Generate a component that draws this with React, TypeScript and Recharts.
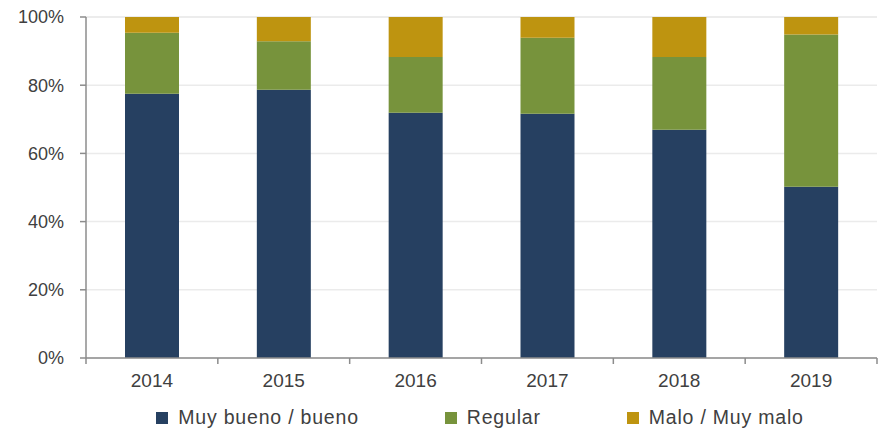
import { Bar, BarChart, CartesianGrid, Legend, XAxis, YAxis } from "recharts";

const years = ["2014", "2015", "2016", "2017", "2018", "2019"];
const muyBuenoBueno = [77.5, 78.7, 71.9, 71.6, 66.9, 50.2];
const regular = [17.9, 14.2, 16.4, 22.3, 21.4, 44.7];
const maloMuyMalo = [4.6, 7.1, 11.7, 6.1, 11.7, 5.1];
const yTicks = [0, 20, 40, 60, 80, 100];

const series = [
  { key: "muyBueno", name: "Muy bueno / bueno", color: "#264061" },
  { key: "regular", name: "Regular", color: "#77933C" },
  { key: "malo", name: "Malo / Muy malo", color: "#BE9410" },
];

const data = years.map((year, i) => ({
  year,
  muyBueno: muyBuenoBueno[i],
  regular: regular[i],
  malo: maloMuyMalo[i],
}));

const FONT = "'Liberation Sans', Arial, sans-serif";
const TEXT = "#404040";
const AXIS = "#8C8C8C";

const W = 882;
const H = 433;
const MARGIN = { top: 17, right: 5, left: 0, bottom: 0 };
const Y_AXIS_W = 86;
const BAND = (W - MARGIN.left - MARGIN.right - Y_AXIS_W) / years.length;
const TICK_GAP = 16;

// year label plus the little marks between categories (Excel style)
function YearTick(props: any) {
  const { x, y, payload, index } = props;
  const axisY = y - TICK_GAP;
  const last = index === years.length - 1;
  return (
    <g>
      <line x1={x - BAND / 2} x2={x - BAND / 2} y1={axisY} y2={axisY + 6} stroke={AXIS} strokeWidth={1.5} />
      {last && (
        <line x1={x + BAND / 2} x2={x + BAND / 2} y1={axisY} y2={axisY + 6} stroke={AXIS} strokeWidth={1.5} />
      )}
      <text x={x} y={y} dy="0.71em" textAnchor="middle" fill={TEXT} fontSize={19} fontFamily={FONT}>
        {payload.value}
      </text>
    </g>
  );
}

function LegendRow() {
  return (
    <div
      style={{
        display: "flex",
        justifyContent: "center",
        gap: 86,
        fontFamily: FONT,
        fontSize: 19.5,
        letterSpacing: 0.8,
        color: TEXT,
        paddingTop: 13,
        paddingLeft: 83,
      }}
    >
      {series.map((s) => (
        <div key={s.key} style={{ display: "flex", alignItems: "center", gap: 10 }}>
          <span style={{ width: 12, height: 12, background: s.color, display: "inline-block" }} />
          <span>{s.name}</span>
        </div>
      ))}
    </div>
  );
}

export default function App() {
  return (
    <div style={{ position: "absolute", left: 0, top: 0, background: "#fff" }}>
      <BarChart width={W} height={H} data={data} margin={MARGIN}>
        <CartesianGrid stroke="#EBEBEB" strokeWidth={1.5} vertical={false} />
        <XAxis
          dataKey="year"
          height={35}
          axisLine={{ stroke: AXIS, strokeWidth: 1.5 }}
          tickLine={false}
          tickSize={0}
          tickMargin={TICK_GAP}
          interval={0}
          tick={<YearTick />}
        />
        <YAxis
          width={Y_AXIS_W}
          domain={[0, 100]}
          ticks={yTicks}
          tickFormatter={(v: number) => `${v}%`}
          tickSize={6}
          tickMargin={16}
          stroke={AXIS}
          strokeWidth={1.5}
          tick={{ fill: TEXT, fontSize: 18, fontFamily: FONT }}
        />
        <Legend verticalAlign="bottom" height={40} content={() => <LegendRow />} />
        {series.map((s) => (
          <Bar
            key={s.key}
            dataKey={s.key}
            name={s.name}
            stackId="a"
            fill={s.color}
            barSize={54}
            isAnimationActive={false}
          />
        ))}
      </BarChart>
    </div>
  );
}
